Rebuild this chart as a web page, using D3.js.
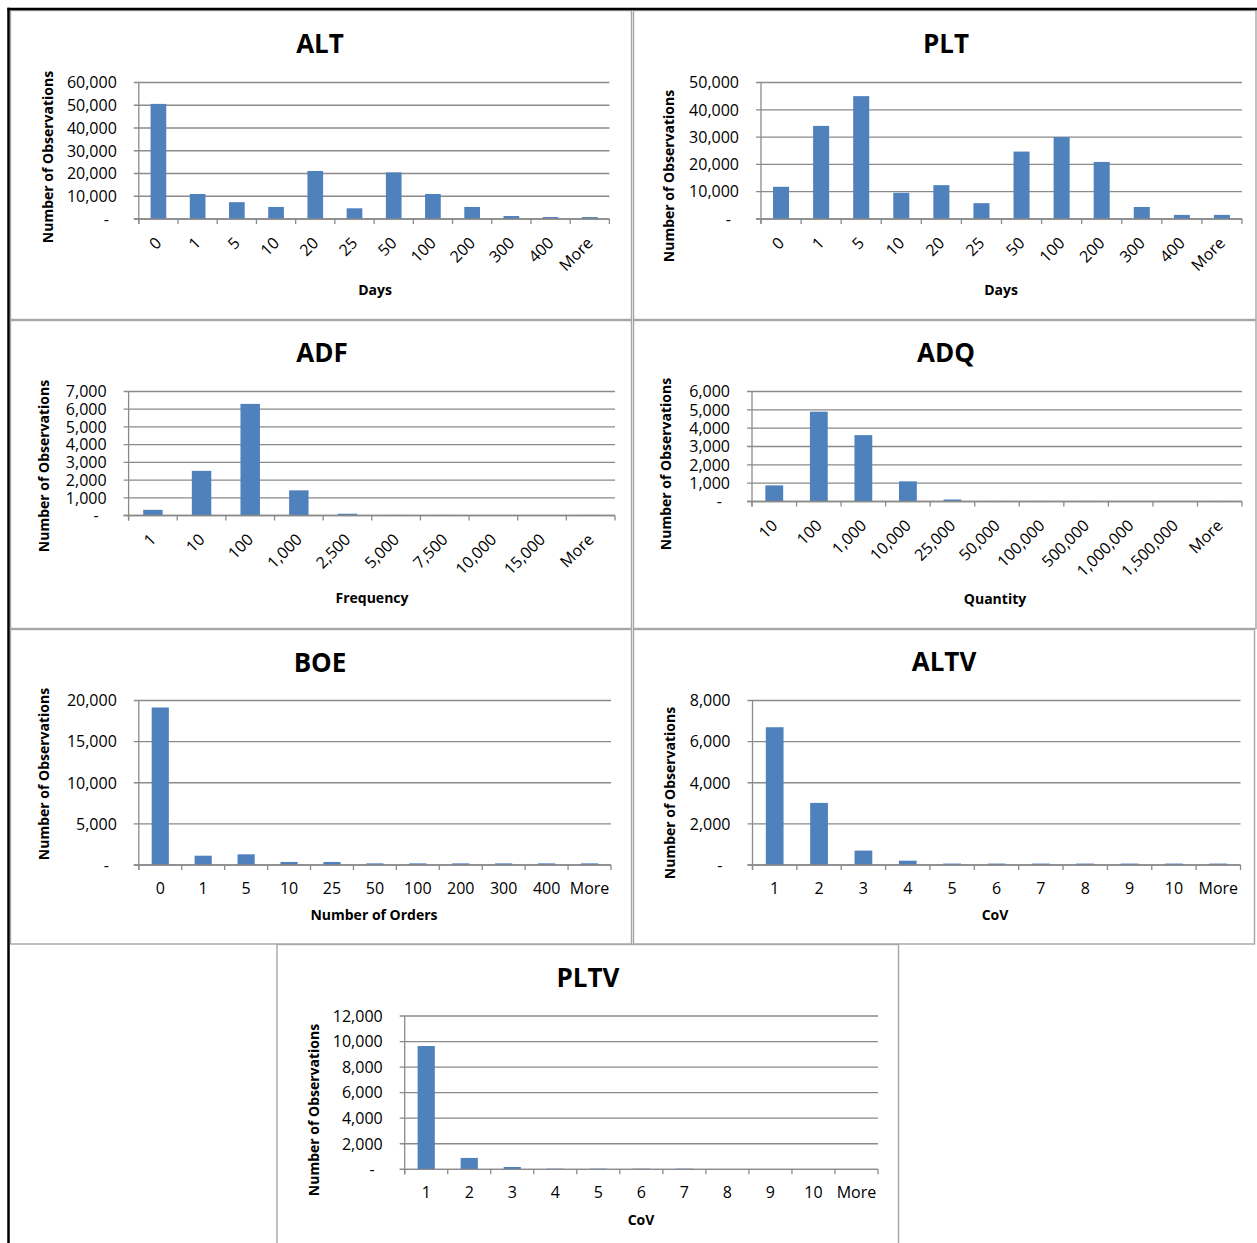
<!DOCTYPE html>
<html>
<head>
<meta charset="utf-8">
<script src="https://cdn.jsdelivr.net/npm/d3@7"></script>
<style>
  body { margin: 0; background: #fff; }
  svg { display: block; }
  text { font-family: "Open Sans", "Noto Sans", sans-serif; fill: #000; }
</style>
</head>
<body>
<svg id="chart" width="1257" height="1243"></svg>
<script>
// ---- bins (categories) ----
const daysBins = ["0", "1", "5", "10", "20", "25", "50", "100", "200", "300", "400", "More"];
const frequencyBins = ["1", "10", "100", "1,000", "2,500", "5,000", "7,500", "10,000", "15,000", "More"];
const quantityBins = ["10", "100", "1,000", "10,000", "25,000", "50,000", "100,000", "500,000", "1,000,000", "1,500,000", "More"];
const orderBins = ["0", "1", "5", "10", "25", "50", "100", "200", "300", "400", "More"];
const covBins = ["1", "2", "3", "4", "5", "6", "7", "8", "9", "10", "More"];

// ---- observation counts per bin ----
const altCounts  = [50600, 11000, 7400, 5300, 21100, 4700, 20500, 11000, 5300, 1300, 850, 850];
const pltCounts  = [11800, 34100, 45000, 9600, 12400, 5800, 24700, 30000, 20900, 4400, 1500, 1500];
const adfCounts  = [320, 2520, 6300, 1420, 100, 30, 30, 0, 0, 30];
const adqCounts  = [880, 4900, 3620, 1100, 110, 30, 30, 30, 0, 0, 30];
const boeCounts  = [19150, 1130, 1300, 370, 370, 200, 200, 200, 200, 200, 200];
const altvCounts = [6700, 3020, 700, 210, 70, 70, 70, 70, 70, 70, 70];
const pltvCounts = [9650, 890, 180, 50, 50, 50, 50, 0, 0, 0, 0];

// ---- y-axis tick values ----
const altTicks  = [0, 10000, 20000, 30000, 40000, 50000, 60000];
const pltTicks  = [0, 10000, 20000, 30000, 40000, 50000];
const adfTicks  = [0, 1000, 2000, 3000, 4000, 5000, 6000, 7000];
const adqTicks  = [0, 1000, 2000, 3000, 4000, 5000, 6000];
const boeTicks  = [0, 5000, 10000, 15000, 20000];
const altvTicks = [0, 2000, 4000, 6000, 8000];
const pltvTicks = [0, 2000, 4000, 6000, 8000, 10000, 12000];

// ---- titles ----
const chartTitles = ["ALT", "PLT", "ADF", "ADQ", "BOE", "ALTV", "PLTV"];
const xTitles = ["Days", "Days", "Frequency", "Quantity", "Number of Orders", "CoV", "CoV"];
const yTitle = "Number of Observations";

// ---- panel geometry ----
const panels = [
  { bins: daysBins, counts: altCounts, ticks: altTicks, rotate: true,
    box: [10.5, 10.5, 631.5, 319.5], x0: 138.8, x1: 609.4, top: 82.5, base: 219,
    tx: 320, ty: 53, xtx: 375, xty: 295, ytx: 48, yty: 157 },
  { bins: daysBins, counts: pltCounts, ticks: pltTicks, rotate: true,
    box: [633.5, 10.5, 1256, 319.5], x0: 761, x1: 1242, top: 82.5, base: 219,
    tx: 946, ty: 53, xtx: 1001, xty: 295, ytx: 669, yty: 176 },
  { bins: frequencyBins, counts: adfCounts, ticks: adfTicks, rotate: true,
    box: [10.5, 320.5, 631.5, 628.5], x0: 128.6, x1: 615, top: 391.5, base: 515.5,
    tx: 322, ty: 362, xtx: 372, xty: 603, ytx: 44, yty: 466 },
  { bins: quantityBins, counts: adqCounts, ticks: adqTicks, rotate: true,
    box: [633.5, 320.5, 1256, 628.5], x0: 752, x1: 1242, top: 391.5, base: 501.5,
    tx: 946, ty: 362, xtx: 995, xty: 604, ytx: 666, yty: 464 },
  { bins: orderBins, counts: boeCounts, ticks: boeTicks, rotate: false,
    box: [10.5, 629.5, 631.5, 944], x0: 138.8, x1: 611, top: 700.5, base: 865,
    tx: 320, ty: 672, xtx: 374, xty: 920, ytx: 44, yty: 774 },
  { bins: covBins, counts: altvCounts, ticks: altvTicks, rotate: false,
    box: [633.5, 629.5, 1254.5, 944], x0: 752.5, x1: 1240.5, top: 700.5, base: 865,
    tx: 944, ty: 671, xtx: 995, xty: 920, ytx: 670, yty: 793 },
  { bins: covBins, counts: pltvCounts, ticks: pltvTicks, rotate: false,
    box: [277, 944.5, 898.5, 1250], x0: 404.7, x1: 878, top: 1016, base: 1169.3,
    tx: 588, ty: 987, xtx: 641, xty: 1225, ytx: 314, yty: 1110 }
];

const svg = d3.select("#chart");
const fmt = d3.format(",");
const gridColor = "#8a8a8a";
const barColor = "#4f81bd";

panels.forEach((p, i) => {
  const g = svg.append("g");

  // cell border
  g.append("rect")
    .attr("x", p.box[0]).attr("y", p.box[1])
    .attr("width", p.box[2] - p.box[0]).attr("height", p.box[3] - p.box[1])
    .attr("fill", "none").attr("stroke", "#a6a6a6").attr("stroke-width", 1.4);

  const yMax = p.ticks[p.ticks.length - 1];
  const y = d3.scaleLinear().domain([0, yMax]).range([p.base, p.top]);
  const x = d3.scaleBand().domain(p.bins).range([p.x0, p.x1])
    .paddingInner(0.6).paddingOuter(0.3);

  // horizontal gridlines with outer tick marks
  g.selectAll(".grid").data(p.ticks).enter().append("line")
    .attr("x1", p.x0 - 5).attr("x2", p.x1)
    .attr("y1", d => y(d)).attr("y2", d => y(d))
    .attr("stroke", gridColor).attr("stroke-width", 1.3);

  // y tick labels (zero shown as a dash)
  g.selectAll(".ylab").data(p.ticks).enter().append("text")
    .attr("x", d => d === 0 ? p.x0 - 30 : p.x0 - 22)
    .attr("y", d => y(d)).attr("dy", "0.36em")
    .attr("text-anchor", "end").attr("font-size", 16)
    .text(d => d === 0 ? "-" : fmt(d));

  // bars
  g.selectAll(".bar").data(p.bins.map((b, k) => ({ bin: b, v: p.counts[k] })))
    .enter().append("rect")
    .attr("x", d => x(d.bin)).attr("width", x.bandwidth())
    .attr("y", d => y(d.v)).attr("height", d => p.base - y(d.v))
    .attr("fill", barColor);

  // axis lines
  g.append("line").attr("x1", p.x0).attr("x2", p.x0)
    .attr("y1", p.top).attr("y2", p.base + 5)
    .attr("stroke", gridColor).attr("stroke-width", 1.3);
  g.append("line").attr("x1", p.x0 - 5).attr("x2", p.x1)
    .attr("y1", p.base).attr("y2", p.base)
    .attr("stroke", gridColor).attr("stroke-width", 1.3);

  // x tick marks at bin boundaries
  const step = x.step();
  const bounds = d3.range(p.bins.length + 1).map(k => p.x0 + k * step);
  g.selectAll(".xtick").data(bounds).enter().append("line")
    .attr("x1", d => d).attr("x2", d => d)
    .attr("y1", p.base).attr("y2", p.base + 5)
    .attr("stroke", gridColor).attr("stroke-width", 1.3);

  // x labels
  const xl = g.selectAll(".xlab").data(p.bins).enter().append("text")
    .attr("font-size", 16).text(d => d);
  if (p.rotate) {
    xl.attr("text-anchor", "end").attr("dy", "0.36em")
      .attr("transform", d => `translate(${x(d) + x.bandwidth() / 2},${p.base + 21}) rotate(-45)`);
  } else {
    xl.attr("text-anchor", "middle").attr("dy", "0.36em")
      .attr("x", d => x(d) + x.bandwidth() / 2).attr("y", p.base + 23);
  }

  // chart title
  g.append("text").attr("x", p.tx).attr("y", p.ty)
    .attr("text-anchor", "middle").attr("font-size", 26).attr("font-weight", "bold")
    .text(chartTitles[i]);

  // x axis title
  g.append("text").attr("x", p.xtx).attr("y", p.xty)
    .attr("text-anchor", "middle").attr("font-size", 14).attr("font-weight", "bold")
    .text(xTitles[i]);

  // y axis title
  g.append("text")
    .attr("transform", `translate(${p.ytx},${p.yty}) rotate(-90)`)
    .attr("text-anchor", "middle").attr("dy", "0.36em")
    .attr("font-size", 14).attr("font-weight", "bold")
    .text(yTitle);
});

// outer frame, top and left edges
svg.append("line").attr("x1", 7.5).attr("x2", 1257).attr("y1", 9).attr("y2", 9)
  .attr("stroke", "#000").attr("stroke-width", 2.5);
svg.append("line").attr("x1", 8.5).attr("x2", 8.5).attr("y1", 7.8).attr("y2", 1243)
  .attr("stroke", "#000").attr("stroke-width", 2.5);
</script>
</body>
</html>
